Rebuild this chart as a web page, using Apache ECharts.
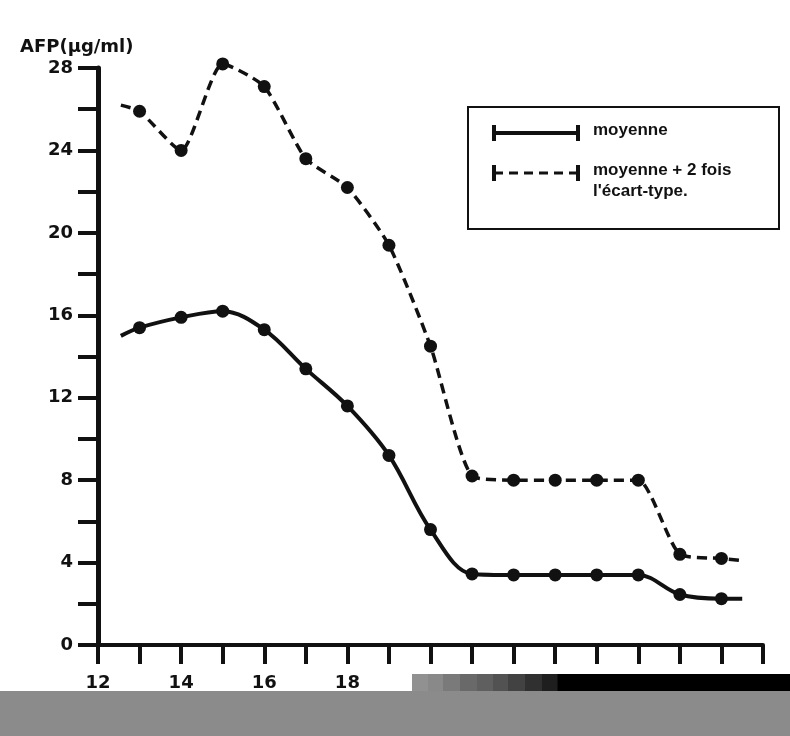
<!DOCTYPE html>
<html>
<head>
<meta charset="utf-8">
<script src="https://cdn.jsdelivr.net/npm/echarts@6/dist/echarts.min.js"></script>
<style>html,body{margin:0;padding:0;background:#fff;}#c{width:790px;height:736px;}</style>
</head>
<body>
<div id="c"></div>
<script>
// weeks (x) — ends carry no marker
var weeks = [12.55, 13, 14, 15, 16, 17, 18, 19, 20, 21, 22, 23, 24, 25, 26, 27, 27.5];
var moyenne = [15.0, 15.4, 15.9, 16.2, 15.3, 13.4, 11.6, 9.2, 5.6, 3.45, 3.4, 3.4, 3.4, 3.4, 2.45, 2.25, 2.25];
var moyenne2et = [26.2, 25.9, 24.0, 28.2, 27.1, 23.6, 22.2, 19.4, 14.5, 8.2, 8.0, 8.0, 8.0, 8.0, 4.4, 4.2, 4.1];
var xLabels = [12, 14, 16, 18];
var yTicks = [0, 4, 8, 12, 16, 20, 24, 28];
var stripColors = ['#919191', '#898989', '#7a7a7a', '#696969', '#5f5f5f', '#525252', '#424242', '#303030', '#1e1e1e'];

function toData(ys) {
  return weeks.map(function (w, i) {
    var item = { value: [w, ys[i]] };
    if (i === 0 || i === weeks.length - 1) item.symbol = 'none';
    return item;
  });
}

var FONT = 'DejaVu Sans';
var chart = echarts.init(document.getElementById('c'), null, { renderer: 'canvas' });

var graphics = [
  { type: 'text', left: 20, top: 38, style: { text: 'AFP(µg/ml)', font: 'bold 18px "DejaVu Sans"', fill: '#111' } },
  // legend box
  { type: 'rect', shape: { x: 468, y: 107, width: 311, height: 122 }, style: { fill: 'none', stroke: '#111', lineWidth: 2 } },
  { type: 'line', shape: { x1: 494, y1: 133, x2: 578, y2: 133 }, style: { stroke: '#111', lineWidth: 4 } },
  { type: 'line', shape: { x1: 494, y1: 125, x2: 494, y2: 141 }, style: { stroke: '#111', lineWidth: 4 } },
  { type: 'line', shape: { x1: 578, y1: 125, x2: 578, y2: 141 }, style: { stroke: '#111', lineWidth: 4 } },
  { type: 'line', shape: { x1: 494, y1: 173, x2: 578, y2: 173 }, style: { stroke: '#111', lineWidth: 3, lineDash: [9, 6] } },
  { type: 'line', shape: { x1: 494, y1: 165, x2: 494, y2: 181 }, style: { stroke: '#111', lineWidth: 4 } },
  { type: 'line', shape: { x1: 578, y1: 165, x2: 578, y2: 181 }, style: { stroke: '#111', lineWidth: 4 } },
  { type: 'text', left: 593, top: 122, style: { text: 'moyenne', font: 'bold 17px "Liberation Sans"', fill: '#111' } },
  { type: 'text', left: 593, top: 162, style: { text: 'moyenne + 2 fois', font: 'bold 17px "Liberation Sans"', fill: '#111' } },
  { type: 'text', left: 593, top: 183, style: { text: "l'écart-type.", font: 'bold 17px "Liberation Sans"', fill: '#111' } },
  // scan artefacts at bottom
  { type: 'rect', z: 100, shape: { x: 0, y: 691, width: 790, height: 45 }, style: { fill: '#8b8b8b' } },
  { type: 'rect', z: 100, shape: { x: 557, y: 674, width: 233, height: 17 }, style: { fill: '#000' } }
];
var sx = 412, sw = [16, 15, 17, 17, 16, 15, 17, 17, 15];
stripColors.forEach(function (c, i) {
  graphics.push({ type: 'rect', z: 100, shape: { x: sx, y: 674, width: sw[i] + 0.5, height: 17 }, style: { fill: c } });
  sx += sw[i];
});

chart.setOption({
  backgroundColor: '#fff',
  animation: false,
  grid: { left: 98, right: 27, top: 68, bottom: 91, containLabel: false },
  xAxis: {
    type: 'value', min: 12, max: 28, interval: 1,
    axisLine: { lineStyle: { color: '#111', width: 4 } },
    axisTick: { show: true, inside: false, length: 19, lineStyle: { color: '#111', width: 4 } },
    axisLabel: {
      margin: 29, color: '#111', fontSize: 18, fontWeight: 'bold', fontFamily: FONT,
      formatter: function (v) { return xLabels.indexOf(v) >= 0 ? String(v) : ''; }
    },
    splitLine: { show: false }
  },
  yAxis: {
    type: 'value', min: 0, max: 28, interval: 4,
    axisLine: { show: true, lineStyle: { color: '#111', width: 5 } },
    axisTick: { show: true, inside: false, length: 20, lineStyle: { color: '#111', width: 4 } },
    minorTick: { show: true, splitNumber: 2, length: 20, lineStyle: { color: '#111', width: 4 } },
    axisLabel: {
      margin: 25, color: '#111', fontSize: 18, fontWeight: 'bold', fontFamily: FONT,
      formatter: function (v) { return yTicks.indexOf(v) >= 0 ? String(v) : ''; }
    },
    splitLine: { show: false }
  },
  graphic: graphics,
  series: [
    {
      name: 'moyenne', type: 'line', smooth: 0.35, clip: false,
      data: toData(moyenne),
      symbol: 'circle', symbolSize: 13,
      itemStyle: { color: '#111' },
      lineStyle: { color: '#111', width: 4 }
    },
    {
      name: 'moyenne + 2 fois l\'écart-type', type: 'line', smooth: 0.2, clip: false,
      data: toData(moyenne2et),
      symbol: 'circle', symbolSize: 13,
      itemStyle: { color: '#111' },
      lineStyle: { color: '#111', width: 3.5, type: [10, 6] }
    }
  ]
});
</script>
</body>
</html>
